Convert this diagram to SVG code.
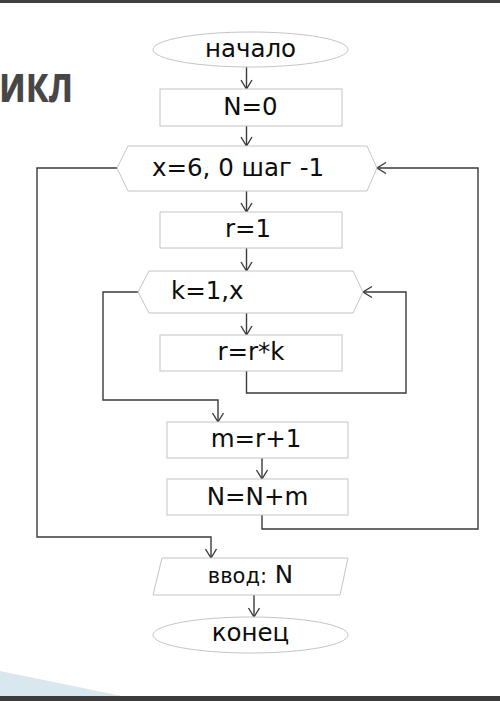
<svg xmlns="http://www.w3.org/2000/svg" width="500" height="701" viewBox="0 0 500 701">
<defs>
<style>
.nd{fill:#fff;stroke:#c4c4c4;stroke-width:1}
.tx{font-family:"DejaVu Sans","Verdana",sans-serif;font-size:24.5px;fill:#0d0d0d}
.cn{fill:none;stroke:#3a3a3a;stroke-width:1.4}
.title{font-family:"Open Sans","Liberation Sans",sans-serif;font-weight:bold;font-size:52px;fill:#474747}
</style>
<marker id="ar" markerWidth="14" markerHeight="14" refX="11" refY="7" orient="auto" markerUnits="userSpaceOnUse">
<path d="M2,1.5 L11,7 L2,12.5" fill="none" stroke="#3a3a3a" stroke-width="1.4"/>
</marker>
</defs>
<rect x="0" y="0" width="500" height="701" fill="#fff"/>
<polygon points="0,671 0,696 122,696" fill="#d9e8ef"/>
<rect x="0" y="0" width="500" height="3" fill="#3f3f3f"/>
<rect x="0" y="696" width="500" height="5" fill="#3c3c3c"/>
<text class="title" x="73" y="102" text-anchor="end" textLength="74" lengthAdjust="spacingAndGlyphs">икл</text>

<g id="connectors">
<line class="cn" x1="246.5" y1="67" x2="246.5" y2="89" marker-end="url(#ar)"/>
<line class="cn" x1="246.5" y1="126" x2="246.5" y2="146" marker-end="url(#ar)"/>
<line class="cn" x1="246.5" y1="191" x2="246.5" y2="212" marker-end="url(#ar)"/>
<line class="cn" x1="246.5" y1="248" x2="246.5" y2="271" marker-end="url(#ar)"/>
<line class="cn" x1="246.5" y1="313" x2="246.5" y2="335" marker-end="url(#ar)"/>
<path class="cn" d="M246.5,371 V393 H406 V292 H363" marker-end="url(#ar)"/>
<path class="cn" d="M138,292 H103 V400 H218 V422" marker-end="url(#ar)"/>
<line class="cn" x1="262" y1="458" x2="262" y2="479" marker-end="url(#ar)"/>
<path class="cn" d="M262,515 V529 H478 V168 H377" marker-end="url(#ar)"/>
<path class="cn" d="M117,168 H37 V537 H211 V558" marker-end="url(#ar)"/>
<line class="cn" x1="254" y1="595" x2="254" y2="617" marker-end="url(#ar)"/>
</g>

<g id="start">
<ellipse class="nd" cx="250.5" cy="49.5" rx="97.5" ry="17.5"/>
<text class="tx" x="250.5" y="57" text-anchor="middle">начало</text>
</g>
<g id="n0">
<rect class="nd" x="160" y="89" width="182" height="37"/>
<text class="tx" x="250.5" y="115" text-anchor="middle">N=0</text>
</g>
<g id="loopx">
<polygon class="nd" points="117,168 128,146 367,146 377,168 367,191 128,191"/>
<text class="tx" x="152" y="176">x=6, 0 шаг -1</text>
</g>
<g id="r1">
<rect class="nd" x="160" y="212" width="182" height="36"/>
<text class="tx" x="248" y="237" text-anchor="middle">r=1</text>
</g>
<g id="loopk">
<polygon class="nd" points="138,292 149,271 353,271 363,292 353,313 149,313"/>
<text class="tx" x="171" y="299">k=1,x</text>
</g>
<g id="rrk">
<rect class="nd" x="160" y="335" width="182" height="36"/>
<text class="tx" x="251" y="360" text-anchor="middle">r=r*k</text>
</g>
<g id="mr1">
<rect class="nd" x="167" y="422" width="181" height="36"/>
<text class="tx" x="256" y="447" text-anchor="middle">m=r+1</text>
</g>
<g id="nnm">
<rect class="nd" x="167" y="479" width="181" height="36"/>
<text class="tx" x="257.5" y="505" text-anchor="middle">N=N+m</text>
</g>
<g id="input">
<polygon class="nd" points="162,558 348,558 340,595 153,595"/>
<text class="tx" x="250.5" y="583" text-anchor="middle"><tspan font-size="21px">ввод:</tspan> N</text>
</g>
<g id="end">
<ellipse class="nd" cx="250.5" cy="635" rx="97.5" ry="18"/>
<text class="tx" x="250.5" y="641" text-anchor="middle">конец</text>
</g>
</svg>
